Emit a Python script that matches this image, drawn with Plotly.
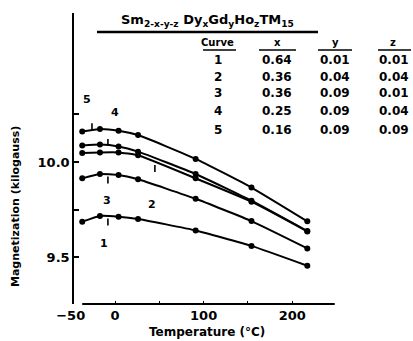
import plotly.graph_objects as go

# Magnetization vs temperature for Sm(2-x-y-z) Dy(x) Gd(y) Ho(z) TM15 alloys
temps = [-37, -17, 4, 26, 91, 154, 217]
curve_a = [10.159, 10.173, 10.164, 10.141, 10.016, 9.866, 9.689]
curve_b = [10.086, 10.091, 10.081, 10.054, 9.937, 9.797, 9.638]
curve_c = [10.047, 10.050, 10.050, 10.035, 9.914, 9.792, 9.636]
curve_d = [9.914, 9.937, 9.932, 9.909, 9.807, 9.690, 9.547]
curve_e = [9.687, 9.717, 9.713, 9.701, 9.641, 9.560, 9.456]

# small vertical index marks on the curves
mark_t = [-26, -8, 45, -8, -8]
mark_v = [10.184, 10.102, 9.966, 9.905, 9.685]

# curve number labels
label_text = ["5", "4", "3", "2", "1"]
label_t = [-32, 0, -9, 42, -12]
label_v = [10.325, 10.258, 9.800, 9.778, 9.575]

# composition table
table_curve = ["1", "2", "3", "4", "5"]
table_x = ["0.64", "0.36", "0.36", "0.25", "0.16"]
table_y = ["0.01", "0.04", "0.09", "0.09", "0.09"]
table_z = ["0.01", "0.04", "0.01", "0.04", "0.09"]

x_ticks = [-50, 0, 100, 200]
x_minor = [0, 50, 100, 150, 200]
y_ticks = [9.5, 9.75, 10.0, 10.25]
y_ticktext = ["9.5", "", "10.0", ""]

W, H = 413, 341
FONT = "DejaVu Sans"


def px(x):
    return x / W


def py(y):
    return 1 - y / H


fig = go.Figure()
for vals in [curve_a, curve_b, curve_c, curve_d, curve_e]:
    fig.add_trace(go.Scatter(
        x=temps, y=vals, mode="lines+markers",
        line=dict(color="black", width=2, shape="spline", smoothing=0.4),
        marker=dict(color="black", size=6),
        showlegend=False, hoverinfo="skip"))

fig.add_trace(go.Scatter(
    x=mark_t, y=mark_v, mode="markers",
    marker=dict(symbol="line-ns", size=5, line=dict(color="black", width=1.6)),
    showlegend=False, hoverinfo="skip"))

for t, v, s in zip(label_t, label_v, label_text):
    fig.add_annotation(x=t, y=v, text=s, showarrow=False,
                       xanchor="center", yanchor="middle",
                       font=dict(family=FONT, size=11, color="black", weight="bold"))

# x-axis baseline
fig.add_shape(type="line", xref="x", yref="paper", x0=-37, x1=248,
              y0=py(304), y1=py(304), line=dict(color="black", width=2))

# formula header with underline
fig.add_annotation(xref="paper", yref="paper", x=px(207), y=py(21),
                   text="Sm<sub>2-x-y-z</sub> Dy<sub>x</sub>Gd<sub>y</sub>Ho<sub>z</sub>TM<sub>15</sub>",
                   showarrow=False, xanchor="center", yanchor="middle",
                   font=dict(family=FONT, size=13, color="black", weight="bold"))
fig.add_shape(type="line", xref="paper", yref="paper", x0=px(97), x1=px(318),
              y0=py(32), y1=py(32), line=dict(color="black", width=2.5))

# table headers
headers = [("Curve", 218), ("x", 277), ("y", 335), ("z", 393)]
for txt, cx in headers:
    fig.add_annotation(xref="paper", yref="paper", x=px(cx), y=py(42), text=txt,
                       showarrow=False, xanchor="center", yanchor="middle",
                       font=dict(family=FONT, size=10, color="black", weight="bold"))
for x0, x1 in [(203, 236), (259, 296), (318, 352), (378, 411)]:
    fig.add_shape(type="line", xref="paper", yref="paper", x0=px(x0), x1=px(x1),
                  y0=py(50), y1=py(50), line=dict(color="black", width=1.5))

row_y = [59.5, 76.5, 93.5, 111.5, 129.5]
for i, ry in enumerate(row_y):
    for col, cx in [(table_curve, 218), (table_x, 277), (table_y, 335), (table_z, 394)]:
        fig.add_annotation(xref="paper", yref="paper", x=px(cx), y=py(ry), text=col[i],
                           showarrow=False, xanchor="center", yanchor="middle",
                           font=dict(family=FONT, size=12, color="black", weight="bold"))

# axis titles
fig.add_annotation(xref="paper", yref="paper", x=px(207), y=py(332),
                   text="Temperature (°C)", showarrow=False,
                   xanchor="center", yanchor="middle",
                   font=dict(family=FONT, size=12, color="black", weight="bold"))
fig.add_annotation(xref="paper", yref="paper", x=px(15), y=py(207),
                   text="Magnetization (kilogauss)", showarrow=False, textangle=-90,
                   xanchor="center", yanchor="middle",
                   font=dict(family=FONT, size=11, color="black", weight="bold"))

fig.update_layout(
    width=W, height=H,
    margin=dict(l=0, r=0, t=0, b=0),
    paper_bgcolor="white", plot_bgcolor="white",
    xaxis=dict(domain=[0, 1], range=[-129.8, 336.3], showgrid=False, zeroline=False,
               showline=False, tickvals=x_ticks, ticks="", ticklabelstandoff=2,
               tickfont=dict(family=FONT, size=13, color="black", weight="bold"),
               minor=dict(tickvals=x_minor, ticks="inside", ticklen=3,
                          tickcolor="black", showgrid=False)),
    yaxis=dict(domain=[py(304), py(13)], range=[9.2555, 10.7806], anchor="free",
               position=px(73), showgrid=False, zeroline=False, showline=True,
               linecolor="black", linewidth=1.5, tickvals=y_ticks, ticktext=y_ticktext,
               ticks="inside", ticklen=5, tickwidth=1.5, tickcolor="black",
               tickfont=dict(family=FONT, size=13, color="black", weight="bold")),
)

fig.write_html("out.html")
